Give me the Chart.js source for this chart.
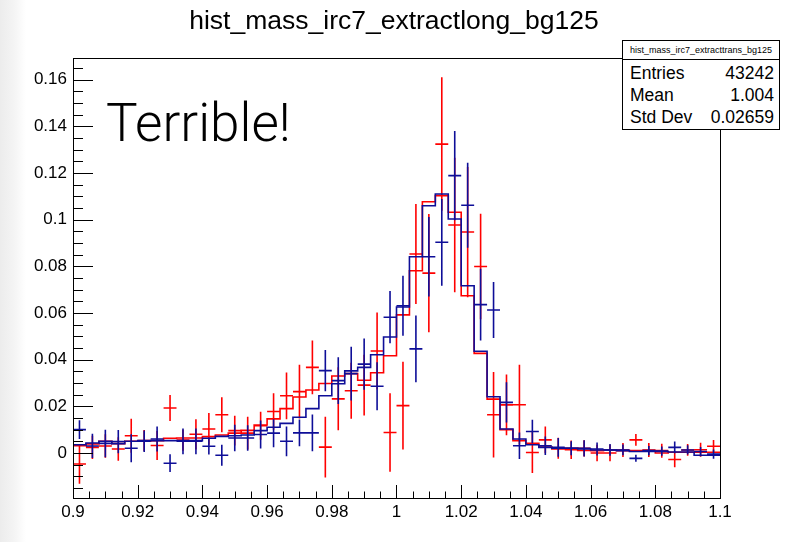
<!DOCTYPE html>
<html>
<head>
<meta charset="utf-8">
<script src="https://cdn.jsdelivr.net/npm/chart.js@4.4.1/dist/chart.umd.min.js"></script>
<style>
  body { margin: 0; background: linear-gradient(to right, #ececec 0px, #f4f4f4 14px, #ffffff 26px); }
  #wrap { position: relative; width: 798px; height: 542px; }
  #c { position: absolute; left: 0; top: 0; }
  #title { position: absolute; left: 0; top: 4px; width: 788px; text-align: center; color: #000;
           font: 26.5px "Liberation Sans", Arial, sans-serif; line-height: 32px; }
  #note { position: absolute; left: 106px; top: 93px; font: 300 53px Roboto, "Open Sans", sans-serif; line-height: 60px; color: #000; }
  #stats { position: absolute; left: 622px; top: 40px; width: 156px; height: 88px; background: #fff;
           border: 1px solid #000; font-family: "Liberation Sans", Arial, sans-serif; color: #000; }
  #stats .head { height: 18px; line-height: 18px; border-bottom: 1px solid #000; font-size: 9px; text-align: center; }
  #stats .rows { padding-top: 2px; }
  #stats .row { display: flex; justify-content: space-between; padding: 0 5px 0 7px; height: 22px; line-height: 22px; font-size: 17.5px; }
</style>
</head>
<body>
<div id="wrap">
  <canvas id="c" width="798" height="542"></canvas>
  <div id="title">hist_mass_irc7_extractlong_bg125</div>
  <div id="note">Terrible!</div>
  <div id="stats">
    <div class="head">hist_mass_irc7_extracttrans_bg125</div>
    <div class="rows">
      <div class="row"><span>Entries</span><span>43242</span></div>
      <div class="row"><span>Mean</span><span>1.004</span></div>
      <div class="row"><span>Std Dev</span><span>0.02659</span></div>
    </div>
  </div>
</div>
<script>
// binning: 50 bins from 0.9 to 1.1
const binLow = 0.9;
const binWidth = 0.004;

// histogram contents (drawn as outlines)
const redHist = [
  0.0045, 0.0031, 0.0039, 0.0050, 0.0040, 0.0050, 0.0050, 0.0053, 0.0063, 0.0064,
  0.0064, 0.0070, 0.0077, 0.0085, 0.0097, 0.0120, 0.0146, 0.0190, 0.0240, 0.0270,
  0.0298, 0.0330, 0.0340, 0.0312, 0.0344, 0.0417, 0.0592, 0.0781, 0.1077, 0.1103,
  0.1032, 0.0674, 0.0427, 0.0231, 0.0100, 0.0053, 0.0041, 0.0025, 0.0017, 0.0020,
  0.0011, 0.0010, 0.0013, 0.0010, 0.0010, 0.0010, 0.0000, 0.0003, 0.0003, 0.0003
];
const blueHist = [
  0.0040, 0.0035, 0.0043, 0.0050, 0.0040, 0.0050, 0.0053, 0.0053, 0.0053, 0.0053,
  0.0053, 0.0063, 0.0071, 0.0074, 0.0077, 0.0096, 0.0110, 0.0127, 0.0153, 0.0190,
  0.0245, 0.0297, 0.0352, 0.0367, 0.0421, 0.0497, 0.0626, 0.0841, 0.1060, 0.1110,
  0.1003, 0.0717, 0.0436, 0.0241, 0.0103, 0.0060, 0.0035, 0.0024, 0.0020, 0.0020,
  0.0017, 0.0013, 0.0013, 0.0010, 0.0006, 0.0006, 0.0006, 0.0004, 0.0004, -0.0010
];

// points with errors
const redPts = [
  -0.0047, 0.0024, 0.0030, 0.0017, 0.0074, 0.0053, 0.0032, 0.0193, 0.0055, 0.0080,
  0.0103, 0.0164, 0.0096, 0.0085, 0.0117, 0.0178, 0.0245, 0.0263, 0.0367, 0.0025,
  0.0232, 0.0267, 0.0291, 0.0437, 0.0088, 0.0203, 0.0853, 0.0771, 0.1324, 0.0977,
  0.0947, 0.0799, 0.0164, 0.0206, 0.0207, 0.0002, 0.0056, 0.0020, 0.0014, 0.0020,
  0.0000, 0.0000, 0.0013, 0.0056, 0.0013, 0.0010, -0.0028, 0.0013, 0.0014, 0.0029
];
const redErr = [
  0.0085, 0.0050, 0.0050, 0.0050, 0.0073, 0.0045, 0.0062, 0.0056, 0.0045, 0.0065,
  0.0068, 0.0075, 0.0064, 0.0070, 0.0060, 0.0078, 0.0100, 0.0115, 0.0115, 0.0130,
  0.0135, 0.0120, 0.0130, 0.0165, 0.0168, 0.0188, 0.0214, 0.0253, 0.0286, 0.0288,
  0.0279, 0.0226, 0.0183, 0.0130, 0.0171, 0.0088, 0.0057, 0.0045, 0.0040, 0.0035,
  0.0035, 0.0035, 0.0030, 0.0025, 0.0030, 0.0030, 0.0033, 0.0025, 0.0030, 0.0027
];
const bluePts = [
  0.0100, 0.0030, 0.0041, 0.0049, 0.0020, 0.0050, 0.0060, -0.0044, 0.0050, 0.0050,
  0.0029, -0.0010, 0.0064, 0.0064, 0.0079, 0.0085, 0.0050, 0.0086, 0.0086, 0.0353,
  0.0310, 0.0340, 0.0381, 0.0286, 0.0582, 0.0631, 0.0446, 0.0841, 0.0903, 0.1189,
  0.1062, 0.0636, 0.0613, 0.0217, 0.0031, 0.0092, 0.0031, 0.0024, 0.0020, 0.0020,
  0.0017, 0.0013, 0.0013, -0.0023, 0.0010, 0.0008, 0.0024, 0.0013, 0.0006, -0.0005
];
const blueErr = [
  0.0040, 0.0052, 0.0059, 0.0050, 0.0060, 0.0046, 0.0054, 0.0038, 0.0055, 0.0055,
  0.0036, 0.0045, 0.0057, 0.0055, 0.0060, 0.0060, 0.0064, 0.0057, 0.0079, 0.0088,
  0.0100, 0.0115, 0.0110, 0.0103, 0.0112, 0.0129, 0.0143, 0.0170, 0.0186, 0.0191,
  0.0182, 0.0154, 0.0120, 0.0086, 0.0057, 0.0050, 0.0040, 0.0040, 0.0030, 0.0035,
  0.0028, 0.0025, 0.0023, 0.0015, 0.0020, 0.0020, 0.0025, 0.0020, 0.0020, 0.0020
];

// axis labels
const xTickVals = [0.9, 0.92, 0.94, 0.96, 0.98, 1.0, 1.02, 1.04, 1.06, 1.08, 1.1];
const xTickLabels = ["0.9", "0.92", "0.94", "0.96", "0.98", "1", "1.02", "1.04", "1.06", "1.08", "1.1"];
const yTickVals = [0, 0.02, 0.04, 0.06, 0.08, 0.1, 0.12, 0.14, 0.16];
const yTickLabels = ["0", "0.02", "0.04", "0.06", "0.08", "0.1", "0.12", "0.14", "0.16"];

const RED = 'rgb(255,0,0)';
const BLUE = 'rgb(14,14,152)';

// outline: one point per left edge plus the last right edge
function stepPoints(vals) {
  const pts = vals.map((v, i) => ({ x: binLow + i * binWidth, y: v }));
  pts.push({ x: binLow + vals.length * binWidth, y: vals[vals.length - 1] });
  return pts;
}

// crosses: vertical error bar + horizontal bin-width bar, separated by gaps
function crossPoints(vals, errs) {
  const pts = [];
  vals.forEach((v, i) => {
    const c = binLow + (i + 0.5) * binWidth;
    pts.push({ x: c, y: v - errs[i] }, { x: c, y: v + errs[i] }, { x: c, y: null });
    pts.push({ x: c - binWidth / 2, y: v }, { x: c + binWidth / 2, y: v }, { x: c, y: null });
  });
  return pts;
}

// frame with inward ticks, ROOT style
const frameTicks = {
  id: 'frameTicks',
  afterDatasetsDraw(chart) {
    const { ctx, chartArea: a, scales: { x, y } } = chart;
    ctx.save();
    ctx.strokeStyle = '#000';
    ctx.lineWidth = 1;
    ctx.strokeRect(Math.round(a.left) + 0.5, Math.round(a.top) + 0.5,
                   Math.round(a.right - a.left), Math.round(a.bottom - a.top));
    ctx.beginPath();
    for (let k = 0; k <= 40; k++) {
      const v = 0.9 + k * 0.005;
      const px = Math.round(x.getPixelForValue(v)) + 0.5;
      const len = (k % 4 === 0) ? 13 : 6.5;
      ctx.moveTo(px, a.bottom);
      ctx.lineTo(px, a.bottom - len);
    }
    for (let k = -3; k <= 33; k++) {
      const v = k * 0.005;
      const py = Math.round(y.getPixelForValue(v)) + 0.5;
      if (py < a.top || py > a.bottom) continue;
      const len = (k % 4 === 0) ? 20 : 10;
      ctx.moveTo(a.left, py);
      ctx.lineTo(a.left + len, py);
    }
    ctx.stroke();
    ctx.restore();
  }
};

const lineStyle = { pointRadius: 0, pointHoverRadius: 0, fill: false, spanGaps: false, tension: 0 };

new Chart(document.getElementById('c'), {
  type: 'line',
  data: {
    datasets: [
      { ...lineStyle, label: 'blue points', data: crossPoints(bluePts, blueErr), borderColor: BLUE, borderWidth: 1.6, order: 1 },
      { ...lineStyle, label: 'blue hist', data: stepPoints(blueHist), stepped: 'after', borderColor: BLUE, borderWidth: 1.6, order: 2 },
      { ...lineStyle, label: 'red points', data: crossPoints(redPts, redErr), borderColor: RED, borderWidth: 1.6, order: 3 },
      { ...lineStyle, label: 'red hist', data: stepPoints(redHist), stepped: 'after', borderColor: RED, borderWidth: 1.6, order: 4 }
    ]
  },
  options: {
    responsive: false,
    animation: false,
    layout: { padding: { left: 0, right: 78, top: 58, bottom: 0 } },
    plugins: {
      legend: { display: false },
      tooltip: { enabled: false },
      title: { display: false }
    },
    scales: {
      x: {
        type: 'linear', min: 0.9, max: 1.1,
        grid: { display: false, drawTicks: false },
        border: { display: false },
        afterBuildTicks: s => { s.ticks = xTickVals.map(v => ({ value: v })); },
        afterFit: s => { s.height = 44; },
        ticks: {
          padding: 4, color: '#000', autoSkip: false, maxRotation: 0,
          font: { family: '"Liberation Sans", Arial, sans-serif', size: 17 },
          callback: (v, i) => xTickLabels[i]
        }
      },
      y: {
        type: 'linear', min: -0.0193, max: 0.1693,
        grid: { display: false, drawTicks: false },
        border: { display: false },
        afterBuildTicks: s => { s.ticks = yTickVals.map(v => ({ value: v })); },
        afterFit: s => { s.width = 73; },
        ticks: {
          padding: 6, color: '#000',
          font: { family: '"Liberation Sans", Arial, sans-serif', size: 17 },
          callback: (v, i) => yTickLabels[i]
        }
      }
    }
  },
  plugins: [frameTicks]
});
</script>
</body>
</html>
